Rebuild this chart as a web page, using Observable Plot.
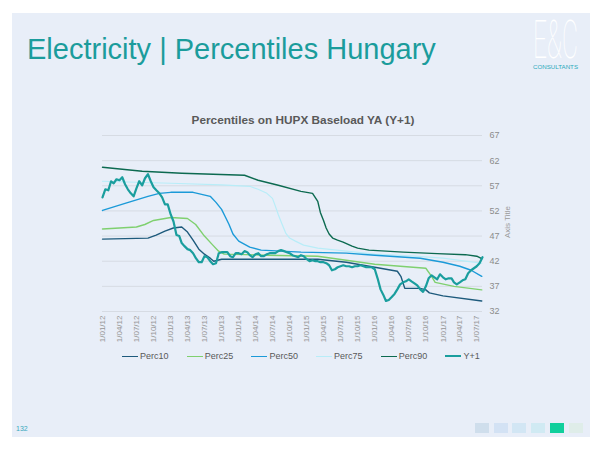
<!DOCTYPE html>
<html><head><meta charset="utf-8">
<script src="https://cdn.jsdelivr.net/npm/d3@7"></script>
<script src="https://cdn.jsdelivr.net/npm/@observablehq/plot@0.6"></script>
<style>
html,body{margin:0;padding:0;background:#fff;width:600px;height:450px;overflow:hidden;font-family:"Liberation Sans",Arial,sans-serif;}
#panel{position:absolute;left:12px;top:13px;width:578px;height:424px;background:#e8eef8;}
#title{position:absolute;left:27px;top:33px;font-size:29px;color:#1b9c9c;white-space:nowrap;}
#deco{position:absolute;left:0;top:0;}
#ctitle{position:absolute;left:0;width:600px;top:113px;text-align:center;font-size:11.8px;font-weight:bold;color:#595959;padding-left:3px;}
#chart{position:absolute;left:90px;top:110px;}
#axt{position:absolute;left:507px;top:222px;font-size:8px;color:#9a9a9a;transform:translate(-50%,-50%) rotate(-90deg);white-space:nowrap;}
#legend{position:absolute;left:122px;top:351px;display:flex;font-size:9px;color:#595959;}
.li{width:64.7px;display:flex;align-items:center;white-space:nowrap;}
.sw{width:16px;height:0;border-top:2px solid;margin-right:2px;}
#page{position:absolute;left:16px;top:425px;font-size:7px;color:#3aa8bd;}
.sq{position:absolute;top:423px;width:14px;height:10px;}
</style></head><body>
<div id="panel"></div>
<div id="title">Electricity | Percentiles Hungary</div>
<svg id="deco" width="600" height="90">
  <text x="533" y="58" font-size="53" font-family="Roboto, 'DejaVu Sans', sans-serif" font-weight="100" fill="#ffffff" textLength="45" lengthAdjust="spacingAndGlyphs">E&amp;C</text>
  <text x="533" y="68.5" font-size="5.2" font-family="'Liberation Sans', Arial, sans-serif" fill="#2aaabb" textLength="45" lengthAdjust="spacingAndGlyphs">CONSULTANTS</text>
</svg>
<div id="ctitle">Percentiles on HUPX Baseload YA (Y+1)</div>
<div id="chart"></div>
<div id="axt">Axis Title</div>
<div id="legend"></div>
<div id="page">132</div>
<div id="squares"></div>
<script>
// ---- data ----
const yTicks = [32, 37, 42, 47, 52, 57, 62, 67];
const xTickDates = ["2012-01-01","2012-04-01","2012-07-01","2012-10-01","2013-01-01","2013-04-01","2013-07-01","2013-10-01",
  "2014-01-01","2014-04-01","2014-07-01","2014-10-01","2015-01-01","2015-04-01","2015-07-01","2015-10-01",
  "2016-01-01","2016-04-01","2016-07-01","2016-10-01","2017-01-01","2017-04-01","2017-07-01"];

const seriesNames = ["Perc10","Perc25","Perc50","Perc75","Perc90","Y+1"];
const seriesColors = ["#1d5a7c","#7fd06f","#1b9ad8","#b8edf8","#0c6a50","#1a9e9e"];
const seriesWidths = [1.4,1.4,1.4,1.2,1.4,2.2];

const p10Dates = ["2012-01-01","2012-09-01","2012-10-15","2012-12-01","2013-01-15","2013-03-01","2013-04-01","2013-05-01","2013-06-01","2013-07-01","2013-08-01","2013-08-20","2013-10-01","2014-06-01","2015-03-01","2015-08-01","2016-01-01","2016-05-01","2016-05-20","2016-06-10","2016-09-01","2016-10-01","2016-10-20","2017-01-01","2017-07-28"];
const p10Vals = [46.4,46.6,47.2,48.0,48.6,48.8,47.8,46.2,44.4,43.4,42.6,42.0,42.4,42.4,42.4,41.8,40.8,40.0,39.0,36.6,36.6,36.3,35.7,35.1,34.1];

const p25Dates = ["2012-01-01","2012-07-01","2012-08-15","2012-10-01","2013-01-01","2013-04-01","2013-05-15","2013-07-01","2013-08-15","2013-09-15","2013-10-15","2014-06-01","2015-03-01","2015-08-01","2016-01-01","2016-10-01","2016-11-01","2016-11-20","2017-03-01","2017-07-28"];
const p25Vals = [48.4,48.8,49.3,50.1,50.7,50.5,49.3,47.0,45.2,44.0,43.4,43.2,43.0,42.2,41.4,40.6,39.0,37.8,37.0,36.3];

const p50Dates = ["2012-01-01","2012-05-01","2012-09-01","2012-11-01","2013-01-01","2013-05-01","2013-08-01","2013-09-01","2013-10-01","2013-10-20","2013-11-10","2013-12-01","2014-01-01","2014-03-01","2014-05-01","2014-12-01","2015-08-01","2016-01-01","2016-09-01","2017-01-01","2017-04-01","2017-06-01","2017-07-28"];
const p50Vals = [52.1,53.5,54.9,55.5,55.7,55.7,54.9,53.7,52.3,50.9,49.3,47.4,46.0,44.8,44.2,43.8,43.6,43.2,42.6,41.8,41.0,40.2,39.0];

const p75Dates = ["2012-01-01","2012-07-01","2013-01-01","2013-10-01","2014-03-01","2014-04-15","2014-06-01","2014-07-01","2014-07-15","2014-08-01","2014-08-20","2014-09-10","2014-10-01","2014-11-01","2014-12-15","2015-03-01","2015-08-01","2016-01-01","2016-08-01","2017-01-01","2017-05-01","2017-07-28"];
const p75Vals = [57.9,57.7,57.5,57.2,56.9,56.3,55.5,54.5,53.1,51.3,49.5,47.6,46.6,46.0,45.2,44.6,44.0,43.4,43.0,42.6,42.0,41.6];

const p90Dates = ["2012-01-01","2012-08-01","2013-03-01","2014-02-01","2014-04-15","2014-08-01","2014-12-01","2015-02-01","2015-03-01","2015-03-15","2015-04-01","2015-04-15","2015-05-01","2015-05-20","2015-06-15","2015-07-15","2015-09-01","2015-10-01","2015-12-01","2016-06-01","2016-12-01","2017-05-01","2017-07-01","2017-07-28"];
const p90Vals = [60.7,59.9,59.5,59.1,58.1,57.1,55.9,55.5,53.9,51.7,50.1,48.6,47.4,46.6,46.2,45.8,45.0,44.6,44.2,43.8,43.5,43.3,43.0,42.5];

// Y+1: one reading every half month from 2012-01-01 to 2017-08-01
const y1Start = "2012-01-01";
const y1Vals = [54.7,56.3,56.1,57.9,57.5,58.3,58.1,58.7,57.3,56.3,
  55.5,54.9,56.5,57.9,57.1,58.5,59.3,57.9,56.7,56.1,
  55.5,54.7,53.3,53.3,51.3,49.9,47.2,47.0,45.6,45.0,
  44.4,44.2,43.6,42.6,41.8,41.8,43.0,42.8,42.0,41.4,
  41.6,43.6,43.8,43.8,43.8,43.0,42.8,43.6,43.6,43.4,
  44.0,43.8,43.2,42.8,43.4,43.6,43.0,43.0,43.4,43.6,
  43.6,43.6,44.0,44.2,44.0,43.8,43.6,43.2,43.0,42.8,
  43.2,43.0,42.4,42.0,42.2,42.0,42.0,41.8,41.8,41.6,
  41.2,40.2,40.4,40.8,41.0,41.2,41.0,41.0,40.8,41.0,
  41.0,41.2,41.0,40.8,40.8,40.8,40.4,38.6,36.4,35.3,
  34.1,34.3,34.9,35.5,36.4,37.4,37.8,38.0,38.4,38.0,
  37.6,37.2,36.4,35.9,37.0,38.6,39.2,38.8,38.4,39.4,
  38.8,38.4,38.6,38.6,37.8,37.4,37.8,38.2,38.4,39.6,
  40.2,40.6,41.0,41.6,42.8];

// ---- build tables ----
const parse = s => new Date(s + "T00:00:00Z");
const mk = (name, dates, vals) => dates.map((d, i) => ({series: name, date: parse(d), value: vals[i]}));
const y1Dates = y1Vals.map((_, i) => {
  const m = d3.utcMonth.offset(parse(y1Start), Math.floor(i / 2));
  return i % 2 ? d3.utcDay.offset(m, 15) : m;
});
const data = [
  ...mk("Perc10", p10Dates, p10Vals),
  ...mk("Perc25", p25Dates, p25Vals),
  ...mk("Perc50", p50Dates, p50Vals),
  ...mk("Perc75", p75Dates, p75Vals),
  ...mk("Perc90", p90Dates, p90Vals),
  ...y1Vals.map((v, i) => ({series: "Y+1", date: y1Dates[i], value: v}))
];

const fmt = d => `${d.getUTCDate()}/${String(d.getUTCMonth() + 1).padStart(2, "0")}/${String(d.getUTCFullYear() % 100).padStart(2, "0")}`;

const drawOrder = ["Perc75","Perc90","Perc50","Perc25","Perc10","Y+1"];
const lineMarks = drawOrder.map(name => {
  const i = seriesNames.indexOf(name);
  return Plot.line(data.filter(d => d.series === name), {
    x: "date", y: "value", stroke: seriesColors[i], strokeWidth: seriesWidths[i], curve: "linear", strokeLinejoin: "round"
  });
});

const chart = Plot.plot({
  width: 440, height: 245,
  marginLeft: 12, marginRight: 48, marginTop: 25, marginBottom: 44,
  style: {background: "transparent", fontFamily: "'Liberation Sans', Arial, sans-serif", overflow: "visible"},
  x: {type: "utc", domain: [parse("2012-01-01"), parse("2017-08-01")]},
  y: {domain: [32, 67]},
  marks: [
    Plot.gridY(yTicks, {stroke: "#d6dbe3", strokeOpacity: 1, strokeWidth: 1}),
    Plot.axisY(yTicks, {anchor: "right", tickSize: 0, tickPadding: 7, fontSize: 9, fill: "#8c8c8c", label: null}),
    Plot.axisX(xTickDates.map(parse), {tickSize: 0, tickRotate: -90, tickFormat: fmt, fontSize: 8, fill: "#959595", label: null, tickPadding: 4}),
    ...lineMarks
  ]
});
document.getElementById("chart").appendChild(chart);

// legend
const lg = document.getElementById("legend");
seriesNames.forEach((n, i) => {
  const it = document.createElement("div");
  it.className = "li";
  const sw = document.createElement("span");
  sw.className = "sw";
  sw.style.borderTopColor = seriesColors[i];
  sw.style.borderTopWidth = (i === 5 ? 2.5 : 1.6) + "px";
  const t = document.createElement("span");
  t.textContent = n;
  it.appendChild(sw); it.appendChild(t);
  lg.appendChild(it);
});

// footer squares
const sqColors = ["#cfdeec","#d3e2f4","#d2e6f4","#d0eaf3","#10cf9c","#dfede9"];
const sqX = [475, 494, 512, 531, 550, 569];
const sqc = document.getElementById("squares");
sqColors.forEach((c, i) => {
  const s = document.createElement("div");
  s.className = "sq"; s.style.left = sqX[i] + "px"; s.style.background = c;
  sqc.appendChild(s);
});
</script>
</body></html>
